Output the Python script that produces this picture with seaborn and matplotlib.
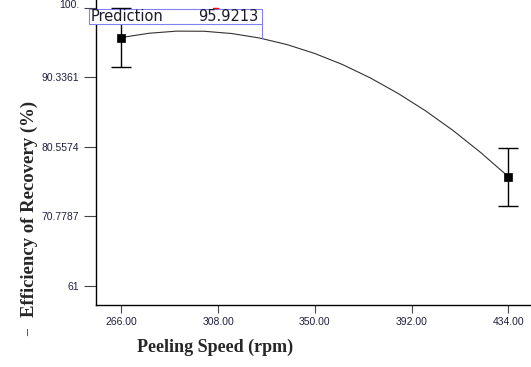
import matplotlib
matplotlib.use('Agg')
import matplotlib.pyplot as plt
import matplotlib.transforms as mtransforms
from matplotlib.patches import Rectangle
from matplotlib.lines import Line2D
import pandas as pd
import seaborn as sns

# fitted model curve
speed_fit = [266, 278, 290, 302, 314, 326, 338, 350, 362, 374, 386, 398, 410, 422, 434]
recovery_fit = [95.92, 96.52, 96.82, 96.80, 96.48, 95.85, 94.92, 93.67,
                92.12, 90.25, 88.08, 85.62, 82.84, 79.74, 76.34]

# design points with error bars
speed_pts = [266, 434]
recovery_pts = [95.92, 76.34]
recovery_err = [4.1, 4.1]

x_ticks = [266, 308, 350, 392, 434]
x_tick_labels = ['266.00', '308.00', '350.00', '392.00', '434.00']
y_ticks = [61, 70.7787, 80.5574, 90.3361, 100.1148]
y_tick_labels = ['61', '70.7787', '80.5574', '90.3361', '100.']
prediction_value = 95.9213

fit_df = pd.DataFrame({'speed': speed_fit, 'recovery': recovery_fit})
pts_df = pd.DataFrame({'speed': speed_pts, 'recovery': recovery_pts})

sns.set_style("ticks")

fig = plt.figure(figsize=(5.31, 3.67), dpi=100)
ax = fig.add_axes([96 / 531, 62 / 367, 435 / 531, 305 / 367])

sns.lineplot(data=fit_df, x='speed', y='recovery', color='#333333', lw=0.8, ax=ax)
ax.errorbar(speed_pts, recovery_pts, yerr=recovery_err, fmt='none',
            ecolor='black', elinewidth=1, capsize=7, capthick=1)
sns.scatterplot(data=pts_df, x='speed', y='recovery', marker='s', s=38,
                color='black', edgecolor='black', ax=ax, zorder=5)

ax.set_xlim(255.0, 443.85)
ax.set_ylim(58.28, 101.2)
ax.set_xticks(x_ticks)
ax.set_xticklabels(x_tick_labels)
ax.set_yticks(y_ticks)
ax.set_yticklabels(y_tick_labels)
for lab in ax.get_xticklabels() + ax.get_yticklabels():
    lab.set_fontfamily('Liberation Sans')
    lab.set_fontsize(7.5)
    lab.set_color('#202040')
ax.tick_params(axis='y', direction='out', length=8.6, width=0.8, pad=3.5, color='#444444')
ax.tick_params(axis='x', direction='out', length=5.8, width=0.8, pad=3, color='#444444')

# nudge the top label upward a little, as in the original
top_lab = ax.get_yticklabels()[-1]
top_lab.set_transform(top_lab.get_transform() +
                      mtransforms.ScaledTranslation(0, 3 / 72, fig.dpi_scale_trans))

sns.despine(ax=ax)
for sp in ['left', 'bottom']:
    ax.spines[sp].set_linewidth(1)
    ax.spines[sp].set_color('black')

ax.set_xlabel('Peeling Speed (rpm)', fontfamily='Liberation Serif',
              fontweight='bold', fontsize=13)
ax.set_ylabel('Efficiency of Recovery (%)', fontfamily='Liberation Serif',
              fontweight='bold', fontsize=13.5)
ax.xaxis.set_label_coords(0.2736, -0.112)
ax.yaxis.set_label_coords(-0.133, 0.315)

# prediction flag
box_col = '#8080f0'
ax.add_patch(Rectangle((-0.0161, 0.9213), 0.3977, 0.0492, transform=ax.transAxes,
                       fill=True, facecolor='white', edgecolor=box_col, lw=0.8,
                       clip_on=False, zorder=6))
ax.plot([0.3816, 0.3816], [0.9213, 0.8754], transform=ax.transAxes,
        color=box_col, lw=0.8, clip_on=False, zorder=6)
ax.text(-0.012, 0.9459, 'Prediction', transform=ax.transAxes, ha='left', va='center',
        fontfamily='DejaVu Sans', fontsize=10.5, color='#1a1a2a', zorder=7)
ax.text(0.3724, 0.9459, f'{prediction_value:.4f}', transform=ax.transAxes,
        ha='right', va='center', fontfamily='DejaVu Sans', fontsize=10.5,
        color='#1a1a2a', zorder=7)

# small marks from the original screenshot
fig.add_artist(Line2D([213 / 531, 218 / 531], [1 - 7.5 / 367, 1 - 7.5 / 367],
                      color='red', lw=1))
fig.text(29 / 531, 1 - 333 / 367, '–', rotation=90, ha='center', va='center',
         fontfamily='Liberation Serif', fontsize=10, fontweight='bold')

ax.set_facecolor('white')
fig.savefig('out.png', dpi=100, facecolor='white')
